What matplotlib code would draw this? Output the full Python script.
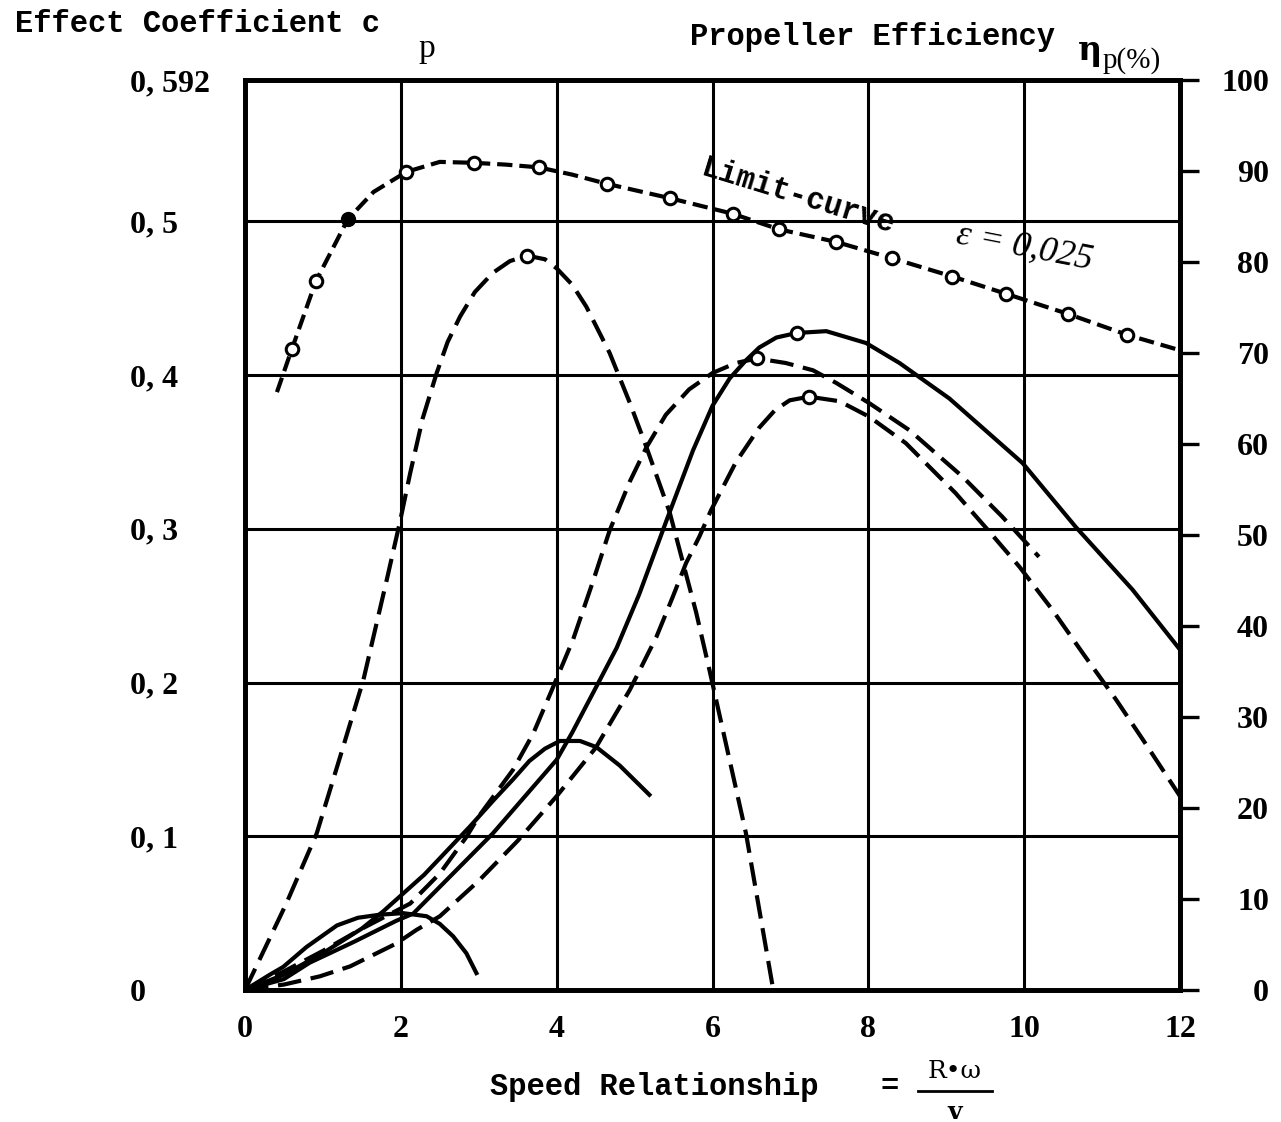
import matplotlib
matplotlib.use("Agg")
import matplotlib.pyplot as plt
from matplotlib.lines import Line2D

plt.rcParams['lines.scale_dashes'] = False

# speed relationship (x) and propeller efficiency in % (right axis)
limit_x = [0.41, 0.60, 0.91, 1.32, 1.65, 2.07, 2.50, 2.94, 3.35, 3.77, 4.20, 4.64, 5.46,
           6.26, 6.85, 7.59, 8.31, 9.08, 9.77, 10.56, 11.32, 12.0]
limit_eta = [65.7, 70.4, 77.9, 84.7, 87.7, 89.9, 91.0, 90.9, 90.7, 90.4, 89.6, 88.6, 87.0,
             85.3, 83.6, 82.2, 80.4, 78.4, 76.5, 74.3, 72.0, 70.3]
limit_open = [1, 2, 5, 7, 9, 11, 12, 13, 14, 15, 16, 17, 18, 19, 20]
limit_filled = [3]

a_x = [0, 0.53, 0.92, 1.22, 1.52, 1.82, 1.99, 2.12, 2.28, 2.46, 2.60, 2.76, 2.95, 3.18,
       3.40, 3.62, 3.85, 4.00, 4.20, 4.38, 4.68, 4.94, 5.15, 5.45, 5.79, 5.96, 6.43, 6.78]
a_eta = [0, 9.5, 17.2, 25.6, 34.1, 45.1, 51.5, 56.8, 62.8, 67.8, 71.2, 74.0, 76.7, 78.8,
         80.1, 80.7, 80.3, 79.3, 77.5, 75.1, 70.0, 64.5, 59.7, 52.5, 41.5, 35.2, 17.2, 0]
a_peak = [15]

b_x = [0, 0.49, 1.0, 1.47, 2.12, 2.5, 2.84, 3.01, 3.44, 3.70, 3.94, 4.21, 4.47, 4.68,
       4.94, 5.15, 5.40, 5.70, 6.00, 6.30, 6.57, 6.94, 7.29, 7.59, 8.01, 8.53, 9.21,
       9.72, 10.19]
b_eta = [0, 2.0, 4.3, 6.6, 9.5, 12.8, 16.8, 19.2, 24.2, 28.2, 33.0, 38.5, 45.0, 50.5,
         55.9, 59.6, 63.2, 66.0, 67.8, 68.9, 69.4, 68.9, 68.1, 66.7, 64.5, 61.5, 56.4,
         52.0, 47.6]
b_peak = [20]

c_x = [0, 0.5, 0.96, 1.35, 1.94, 2.2, 2.5, 3.0, 3.5, 4.0, 4.5, 4.94, 5.28, 5.49, 5.66,
       5.83, 5.98, 6.3, 6.6, 6.80, 6.99, 7.24, 7.63, 8.01, 8.48, 9.12, 9.55, 9.94, 10.36,
       10.77, 11.18, 11.54, 12.0]
c_eta = [0, 0.6, 1.5, 2.6, 5.1, 6.6, 8.1, 12.0, 16.4, 21.3, 26.6, 33.0, 38.8, 43.2, 46.9,
         49.8, 52.7, 58.0, 61.8, 63.7, 64.8, 65.2, 64.7, 63.0, 60.1, 54.6, 50.4, 46.5,
         41.8, 36.8, 31.9, 27.3, 21.3]
c_peak = [21]

d_x = [0, 0.5, 0.83, 1.4, 1.94, 2.16, 3.18, 4.0, 4.2, 4.55, 4.77, 5.06, 5.41, 5.75,
       6.0, 6.22, 6.43, 6.6, 6.82, 7.08, 7.46, 7.97, 8.40, 9.04, 9.98, 10.66, 11.39, 12.0]
d_eta = [0, 1.2, 3.0, 5.3, 7.6, 8.4, 17.2, 25.3, 28.3, 34.0, 37.6, 43.5, 51.6, 59.3,
         64.2, 67.2, 69.2, 70.6, 71.7, 72.2, 72.4, 71.1, 68.9, 65.0, 57.9, 50.9, 44.0, 37.4]
d_peak = [19]

# effect coefficient cp (left axis)
arc1_x = [0, 0.32, 0.49, 0.79, 1.18, 1.45, 1.73, 2.03, 2.33, 2.50, 2.67, 2.84, 2.97]
arc1_cp = [0, 0.010, 0.015, 0.028, 0.042, 0.047, 0.049, 0.050, 0.048, 0.043, 0.035, 0.024, 0.011]

arc2_x = [0, 0.5, 1.0, 1.5, 1.77, 2.3, 2.88, 3.2, 3.44, 3.65, 3.85, 4.04, 4.30, 4.51, 4.81, 5.19]
arc2_cp = [0, 0.010, 0.024, 0.040, 0.051, 0.075, 0.106, 0.124, 0.137, 0.149, 0.157, 0.162,
           0.162, 0.158, 0.146, 0.127]

x_ticks = [0, 2, 4, 6, 8, 10, 12]
cp_ticks = [0, 0.1, 0.2, 0.3, 0.4, 0.5, 0.592]
cp_labels = ['0', '0, 1', '0, 2', '0, 3', '0, 4', '0, 5', '0, 592']
eta_ticks = [0, 10, 20, 30, 40, 50, 60, 70, 80, 90, 100]

W, H = 1281, 1122
fig = plt.figure(figsize=(W / 100, H / 100), dpi=100)
ax = fig.add_axes([245 / W, 1 - 990 / H, (1180 - 245) / W, (990 - 80) / H])
ax2 = ax.twinx()

serif_b = dict(family='Liberation Serif', weight='bold', size=23)
mono = dict(family='Liberation Mono', weight='bold', size=22)

ax.set_xlim(0, 12)
ax.set_ylim(0, 0.592)
ax2.set_ylim(0, 100)

ax.set_xticks(x_ticks)
ax.set_xticklabels([str(v) for v in x_ticks], fontdict=serif_b)
ax.set_yticks(cp_ticks)
ax.set_yticklabels(cp_labels, fontdict=serif_b, ha='left')
ax.tick_params(axis='x', length=0, pad=18)
ax.tick_params(axis='y', length=0, pad=83)
ax.grid(True, color='black', lw=2.2)
ax.set_axisbelow(True)

ax2.set_yticks(eta_ticks)
ax2.set_yticklabels([str(v) for v in eta_ticks], fontdict=serif_b, ha='right')
ax2.tick_params(axis='y', direction='out', length=14, width=2.4, pad=50)

for a in (ax, ax2):
    for s in a.spines.values():
        s.set_linewidth(3.4)
        s.set_color('black')

lw = 3.0
dash = (0, (17, 7))
ax2.plot(limit_x, limit_eta, color='black', lw=lw, ls=(0, (11, 5)), marker='o', ms=9,
         mfc='white', mec='black', mew=2.2, markevery=limit_open, zorder=4)
ax2.plot(limit_x, limit_eta, ls='none', marker='o', ms=10, mfc='black', mec='black',
         markevery=limit_filled, zorder=5)
ax2.plot(a_x, a_eta, color='black', lw=lw, ls=dash, marker='o', ms=9, mfc='white',
         mec='black', mew=2.2, markevery=a_peak)
ax2.plot(b_x, b_eta, color='black', lw=lw, ls=dash, marker='o', ms=9, mfc='white',
         mec='black', mew=2.2, markevery=b_peak)
ax2.plot(c_x, c_eta, color='black', lw=lw, ls=dash, marker='o', ms=9, mfc='white',
         mec='black', mew=2.2, markevery=c_peak)
ax2.plot(d_x, d_eta, color='black', lw=lw, ls='-', marker='o', ms=9, mfc='white',
         mec='black', mew=2.2, markevery=d_peak)
ax.plot(arc1_x, arc1_cp, color='black', lw=lw)
ax.plot(arc2_x, arc2_cp, color='black', lw=lw)

# annotations on the curves
ax2.text(7.1, 87.2, 'Limit-curve', rotation=-17, rotation_mode='anchor',
         ha='center', va='center', **mono)
ax2.text(10.0, 81.6, 'ε = 0,025', rotation=-11, rotation_mode='anchor',
         ha='center', va='center', family='Liberation Serif', style='italic', size=26)

# headers and axis title
fig.text(15 / W, 1 - 32 / H, 'Effect Coefficient c', va='baseline', **mono)
fig.text(418 / W, 1 - 57 / H, 'p', va='baseline', family='Liberation Serif', size=24)
fig.text(690 / W, 1 - 45 / H, 'Propeller Efficiency', va='baseline', **mono)
fig.text(1078 / W, 1 - 60 / H, 'η', va='baseline', family='DejaVu Serif', weight='bold', size=24)
fig.text(1103 / W, 1 - 68 / H, 'p(%)', va='baseline', family='Liberation Serif', size=21)

fig.text(490 / W, 1 - 1095 / H, 'Speed Relationship', va='baseline', **mono)
fig.text(880 / W, 1 - 1095 / H, '=', va='baseline', **mono)
fig.text(955 / W, 1 - 1078 / H, 'R•ω', ha='center', va='baseline',
         family='DejaVu Serif', size=18)
fig.add_artist(Line2D([918 / W, 992 / W], [1 - 1091 / H, 1 - 1091 / H],
                      transform=fig.transFigure, color='black', lw=2))
fig.text(955 / W, 1 - 1100 / H, 'v', ha='center', va='top',
         family='DejaVu Serif', weight='bold', size=18)

fig.savefig('out.png', dpi=100, facecolor='white')
